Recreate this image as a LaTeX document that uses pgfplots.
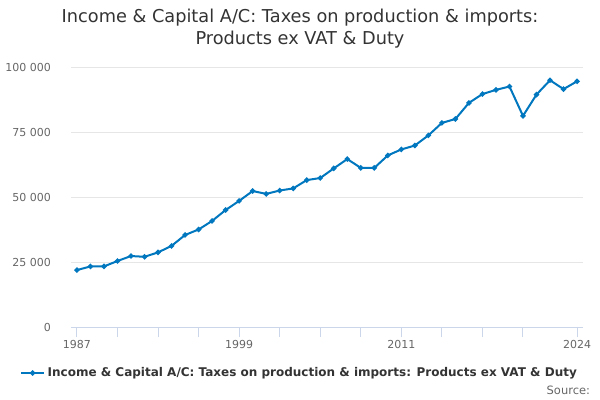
\documentclass[border=0pt]{standalone}
\usepackage{pgfplots}
\pgfplotsset{compat=1.18}
\usepackage{fontspec}
\setmainfont{DejaVu Sans}
\definecolor{linec}{RGB}{0,119,190}
\definecolor{axc}{RGB}{204,214,235}
\definecolor{gridc}{RGB}{230,230,230}
\definecolor{tickc}{RGB}{102,102,102}
\definecolor{titlec}{RGB}{51,51,51}
\begin{document}
\begin{tikzpicture}
\path[use as bounding box] (0,0) rectangle (450pt,-300pt);
\node[align=center, font=\fontsize{13.3pt}{16pt}\selectfont, text=titlec] at (225pt,-21.5pt)
  {Income \& Capital A/C: Taxes on production \& imports:\\Products ex VAT \& Duty};
\node[anchor=east, font=\fontsize{8.6pt}{10pt}\selectfont, text=tickc] at (446pt,-292.5pt) {Source:};
\begin{axis}[
  at={(53.25pt,-245.25pt)}, anchor=south west,
  scale only axis, width=384pt, height=195pt,
  xmin=1986.56, xmax=2024.44, ymin=0, ymax=100000,
  scaled y ticks=false,
  axis y line*=left, axis x line*=bottom,
  y axis line style={draw=none},
  x axis line style={axc, line width=0.75pt, -},
  ytick={0,25000,50000,75000,100000},
  yticklabels={0,25 000,50 000,75 000,100 000},
  ymajorgrids, major grid style={gridc, line width=0.75pt},
  ytick style={draw=none},
  xtick={1987,1990,1993,1996,1999,2002,2005,2008,2011,2014,2017,2020,2024},
  xticklabels={1987,,,,1999,,,,2011,,,,2024},
  xtick style={axc, line width=0.75pt},
  tick align=outside, major tick length=7.5pt,
  ticklabel style={font=\fontsize{8.25pt}{10pt}\selectfont, text=tickc},
  yticklabel style={xshift=-4pt},
  xticklabel style={yshift=1pt},
  legend style={at={(0.447,-0.177)}, anchor=center, draw=none, fill=none,
    font=\bfseries\fontsize{9.0pt}{11pt}\selectfont, text=titlec,
    inner sep=0pt},
  legend cell align=left,
]
\addplot[linec, line width=1.5pt, mark=*, mark size=1.15pt, mark options={solid}] coordinates {
(1987,21900) (1988,23300) (1989,23300) (1990,25400) (1991,27300) (1992,27000)
(1993,28700) (1994,31200) (1995,35400) (1996,37500) (1997,40800) (1998,45000)
(1999,48500) (2000,52300) (2001,51200) (2002,52500) (2003,53300) (2004,56500)
(2005,57300) (2006,61000) (2007,64600) (2008,61200) (2009,61200) (2010,66000)
(2011,68300) (2012,69800) (2013,73700) (2014,78500) (2015,80000) (2016,86200)
(2017,89600) (2018,91200) (2019,92500) (2020,81200) (2021,89400) (2022,94900)
(2023,91500) (2024,94500)
};
\addlegendentry{Income \& Capital A/C: Taxes on production \& imports: Products ex VAT \& Duty}
\end{axis}
\end{tikzpicture}
\end{document}
